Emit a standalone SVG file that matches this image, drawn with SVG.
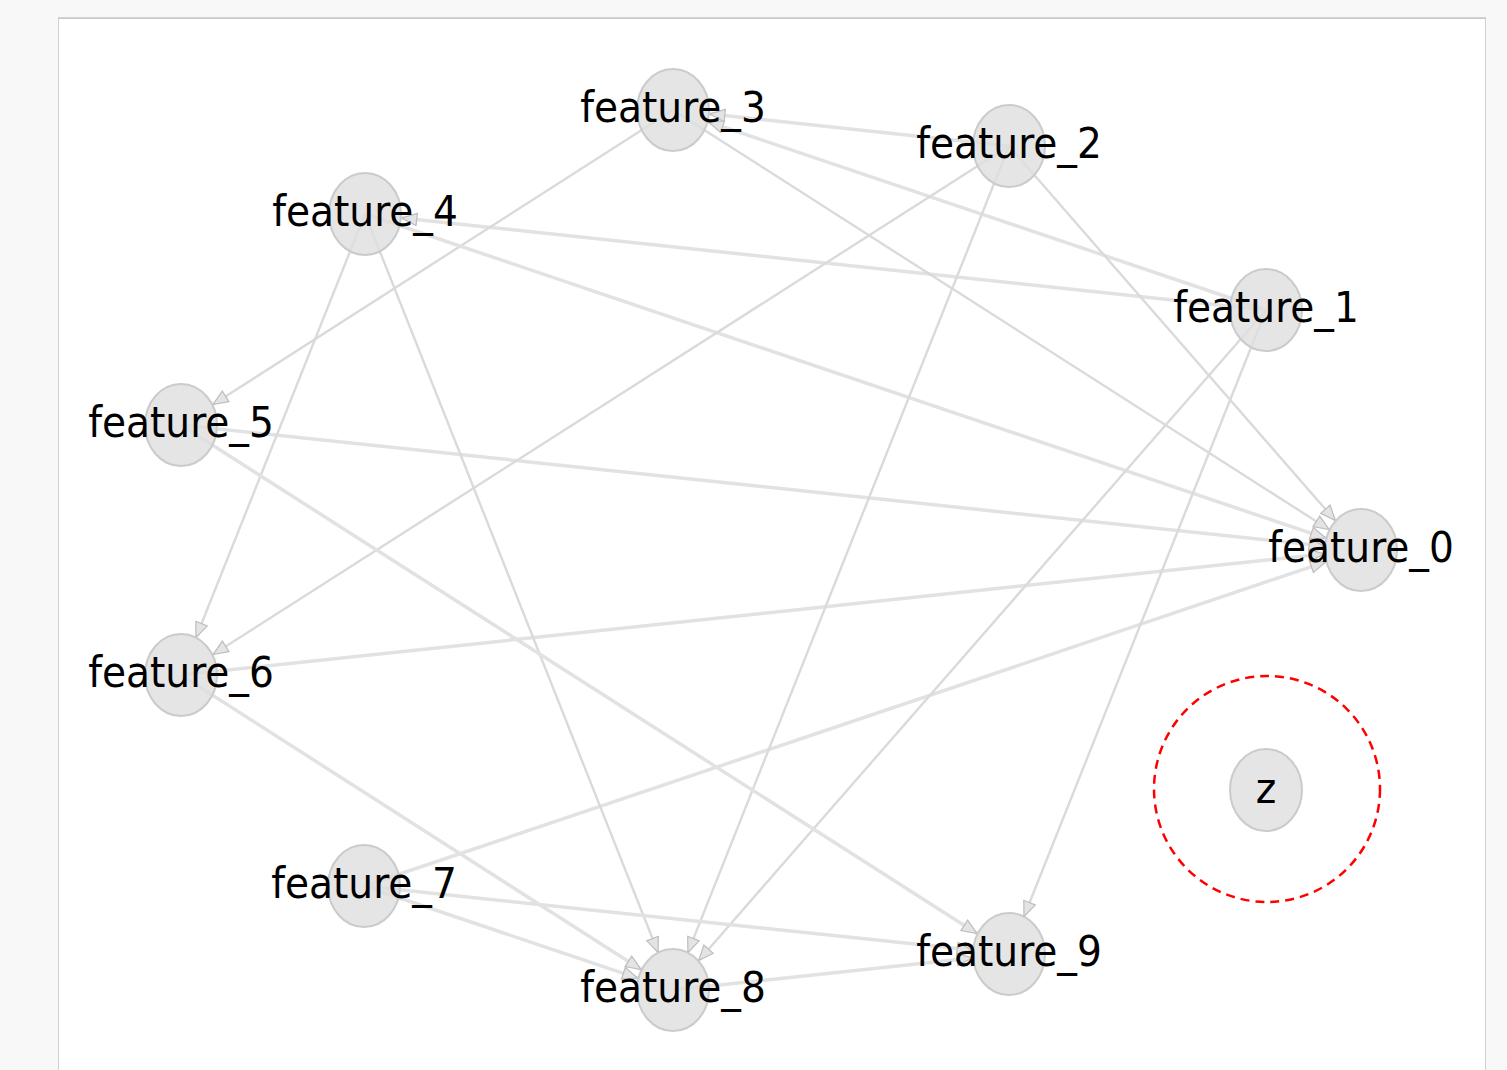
<svg xmlns="http://www.w3.org/2000/svg" width="1507" height="1070" viewBox="0 0 1507 1070">
  <style>
    .edge { fill: none; }
    .thick { stroke: #e2e2e2; stroke-width: 3.5; }
    .thin { stroke: #dadada; stroke-width: 2.4; }
    .node ellipse { fill: #dedede; fill-opacity: 0.8; stroke: #cbcbcb; stroke-width: 2; }
    .node text { font-family: "DejaVu Sans Condensed", "DejaVu Sans", sans-serif; font-size: 43.5px; fill: #000; text-anchor: middle; }
  </style>
  <defs>
    <marker id="arr" markerUnits="userSpaceOnUse" markerWidth="18" markerHeight="16" refX="16" refY="7" orient="auto">
      <path d="M1,0.8 L16,7 L1,13.2 Z" fill="#e4e4e4" stroke="#bdbdbd" stroke-width="1.2"/>
    </marker>
  </defs>
  <rect x="0" y="0" width="1507" height="1070" fill="#f8f8f8"/>
  <rect x="58.5" y="18.5" width="1427" height="1080" fill="#ffffff" stroke="#d2d2d2" stroke-width="1"/>
  <line x1="58" y1="18" x2="1486" y2="18" stroke="#c8c8c8" stroke-width="1.5"/>

  <g id="connectors">
    <line class="edge thick" x1="1009" y1="146" x2="709.8" y2="114" marker-end="url(#arr)"/>
    <line class="edge thick" x1="1266" y1="310" x2="708.4" y2="121.9" marker-end="url(#arr)"/>
    <line class="edge thick" x1="1266" y1="310" x2="401.8" y2="217.9" marker-end="url(#arr)"/>
    <line class="edge thin" x1="673" y1="110" x2="213" y2="404.5" marker-end="url(#arr)"/>
    <line class="edge thin" x1="673" y1="110" x2="1329" y2="529.5" marker-end="url(#arr)"/>
    <line class="edge thin" x1="1009" y1="146" x2="1335.3" y2="520.5" marker-end="url(#arr)"/>
    <line class="edge thick" x1="365" y1="214" x2="1325.6" y2="538.1" marker-end="url(#arr)"/>
    <line class="edge thick" x1="181" y1="425" x2="1324.2" y2="546.1" marker-end="url(#arr)"/>
    <line class="edge thick" x1="181" y1="675" x2="1324.2" y2="553.9" marker-end="url(#arr)"/>
    <line class="edge thick" x1="364" y1="886" x2="1325.6" y2="561.9" marker-end="url(#arr)"/>
    <line class="edge thin" x1="1009" y1="146" x2="213.1" y2="654.5" marker-end="url(#arr)"/>
    <line class="edge thin" x1="365" y1="214" x2="196" y2="637.5" marker-end="url(#arr)"/>
    <line class="edge thin" x1="1009" y1="146" x2="687.9" y2="952.5" marker-end="url(#arr)"/>
    <line class="edge thin" x1="365" y1="214" x2="658.1" y2="952.5" marker-end="url(#arr)"/>
    <line class="edge thin" x1="1266" y1="310" x2="698.7" y2="960.5" marker-end="url(#arr)"/>
    <line class="edge thick" x1="181" y1="675" x2="641" y2="969.5" marker-end="url(#arr)"/>
    <line class="edge thick" x1="364" y1="886" x2="637.6" y2="978.1" marker-end="url(#arr)"/>
    <line class="edge thin" x1="1266" y1="310" x2="1024" y2="916.5" marker-end="url(#arr)"/>
    <line class="edge thick" x1="181" y1="425" x2="976.9" y2="933.5" marker-end="url(#arr)"/>
    <line class="edge thick" x1="364" y1="886" x2="972.2" y2="950.1" marker-end="url(#arr)"/>
    <line class="edge thick" x1="673" y1="990" x2="972.2" y2="957.9" marker-end="url(#arr)"/>
  </g>

  <g id="node-feature_3" class="node"><ellipse cx="673" cy="110" rx="36" ry="41"/><text x="673" y="122">feature_3</text></g>
  <g id="node-feature_2" class="node"><ellipse cx="1009" cy="146" rx="36" ry="41"/><text x="1009" y="158">feature_2</text></g>
  <g id="node-feature_4" class="node"><ellipse cx="365" cy="214" rx="36" ry="41"/><text x="365" y="226">feature_4</text></g>
  <g id="node-feature_1" class="node"><ellipse cx="1266" cy="310" rx="36" ry="41"/><text x="1266" y="322">feature_1</text></g>
  <g id="node-feature_5" class="node"><ellipse cx="181" cy="425" rx="36" ry="41"/><text x="181" y="437">feature_5</text></g>
  <g id="node-feature_0" class="node"><ellipse cx="1361" cy="550" rx="36" ry="41"/><text x="1361" y="562">feature_0</text></g>
  <g id="node-feature_6" class="node"><ellipse cx="181" cy="675" rx="36" ry="41"/><text x="181" y="687">feature_6</text></g>
  <g id="node-feature_7" class="node"><ellipse cx="364" cy="886" rx="36" ry="41"/><text x="364" y="898">feature_7</text></g>
  <g id="node-feature_9" class="node"><ellipse cx="1009" cy="954" rx="36" ry="41"/><text x="1009" y="966">feature_9</text></g>
  <g id="node-feature_8" class="node"><ellipse cx="673" cy="990" rx="36" ry="41"/><text x="673" y="1002">feature_8</text></g>
  <g id="node-z" class="node"><ellipse cx="1266" cy="790" rx="36" ry="41"/><text x="1266" y="803">z</text></g>

  <g id="highlight">
    <circle cx="1267" cy="789" r="113" fill="none" stroke="#ff0000" stroke-width="2.5" stroke-dasharray="9,6"/>
  </g>
</svg>
